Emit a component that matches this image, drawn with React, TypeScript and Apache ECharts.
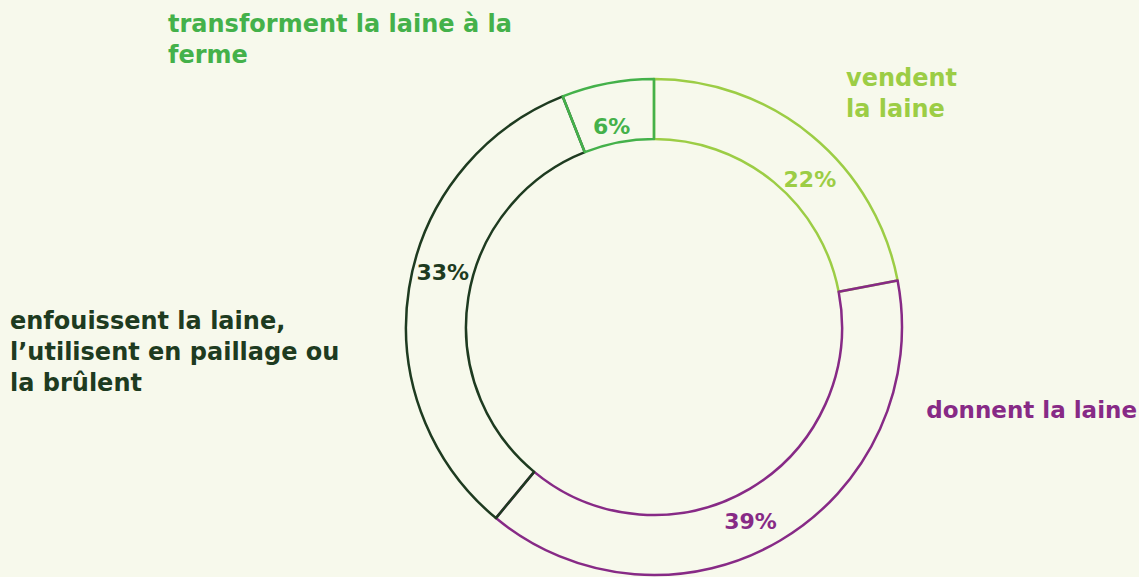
import React, { useEffect, useRef } from "react";
import * as echarts from "echarts";

const categories = [
  "vendent\nla laine",
  "donnent la laine",
  "enfouissent la laine,\nl’utilisent en paillage ou\nla brûlent",
  "transforment la laine à la\nferme",
];
const values = [22, 39, 33, 6];
const colors = ["#9ccd45", "#872a86", "#1e3b20", "#44b14a"];
const labelPositions = [
  [846, 62],
  [1137, 394],
  [10, 305],
  [168, 8],
];
const labelAligns = ["left", "right", "left", "left"];
const labelFontSizes = [24, 23, 24, 24];
const valueLabelOffsets = [
  [15, 23],
  [-16, 4],
  [7, -20],
  [-1, 17],
];

export default function App() {
  const ref = useRef<HTMLDivElement>(null);
  useEffect(() => {
    document.body.style.margin = "0";
    const chart = echarts.init(ref.current!, null, { renderer: "svg" });
    const font = "'DejaVu Sans', sans-serif";
    chart.setOption({
      animation: false,
      backgroundColor: "#f7f9ec",
      series: [
        {
          type: "pie",
          center: [654, 327],
          radius: [188, 248],
          startAngle: 90,
          clockwise: true,
          silent: true,
          data: values.map((v, i) => ({
            name: categories[i],
            value: v,
            itemStyle: {
              color: "rgba(0,0,0,0)",
              borderColor: colors[i],
              borderWidth: 2.5,
            },
            label: { color: colors[i] },
          })),
          label: {
            show: true,
            position: "inside",
            formatter: "{c}%",
            fontFamily: font,
            fontWeight: 700,
            fontSize: 22,
          },
          labelLayout: (p: any) => ({
            dx: valueLabelOffsets[p.dataIndex][0],
            dy: valueLabelOffsets[p.dataIndex][1],
          }),
          labelLine: { show: false },
        },
      ],
      graphic: categories.map((c, i) => ({
        type: "text",
        x: labelPositions[i][0],
        y: labelPositions[i][1],
        style: {
          text: c,
          fill: colors[i],
          font: `700 ${labelFontSizes[i]}px ${font}`,
          lineHeight: 31,
          textAlign: labelAligns[i],
          textVerticalAlign: "top",
        },
      })),
    });
    return () => chart.dispose();
  }, []);
  return <div ref={ref} style={{ width: 1139, height: 577 }} />;
}
